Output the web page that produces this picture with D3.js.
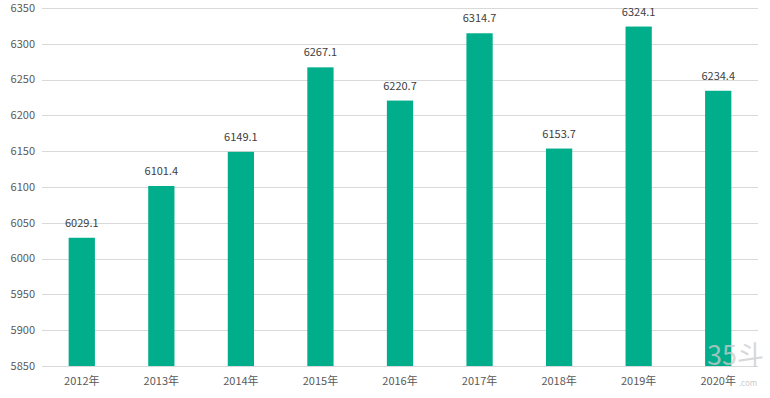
<!DOCTYPE html>
<html lang="zh">
<head>
<meta charset="UTF-8">
<script src="https://d3js.org/d3.v7.min.js"></script>
<style>
  body { margin: 0; background: #fff; }
  text { font-family: "Noto Sans CJK SC", "Noto Sans", sans-serif; }
</style>
</head>
<body>
<div id="chart"></div>
<script>
// data
var years = ["2012年", "2013年", "2014年", "2015年", "2016年", "2017年", "2018年", "2019年", "2020年"];
var values = [6029.1, 6101.4, 6149.1, 6267.1, 6220.7, 6314.7, 6153.7, 6324.1, 6234.4];
var yTicks = [5850, 5900, 5950, 6000, 6050, 6100, 6150, 6200, 6250, 6300, 6350];

var W = 770, H = 398;
var margin = {top: 8, right: 12, bottom: 32, left: 42};
var width = W - margin.left - margin.right,
    height = H - margin.top - margin.bottom;

var svg = d3.select("#chart").append("svg")
    .attr("width", W).attr("height", H);

var g = svg.append("g")
    .attr("transform", "translate(" + margin.left + "," + margin.top + ")");

var x = d3.scaleBand().domain(years).range([0, width]).paddingInner(0.67).paddingOuter(0.335);
var y = d3.scaleLinear().domain([5850, 6350]).range([height, 0]);

// gridlines
g.append("g").selectAll("line")
  .data(yTicks)
  .enter().append("line")
    .attr("x1", 0).attr("x2", width)
    .attr("y1", function(d) { return Math.round(y(d)) + 0.5; })
    .attr("y2", function(d) { return Math.round(y(d)) + 0.5; })
    .attr("stroke", "#d9d9d9").attr("stroke-width", 1);

// y tick labels
g.append("g").selectAll("text")
  .data(yTicks)
  .enter().append("text")
    .attr("x", -7)
    .attr("y", function(d) { return y(d); })
    .attr("dy", "0.35em")
    .attr("text-anchor", "end")
    .attr("font-size", 11)
    .attr("fill", "#595959")
    .text(function(d) { return d; });

// watermark (behind labels)
svg.append("text")
    .attr("x", 707).attr("y", 365)
    .attr("font-size", 27)
    .attr("fill", "#cccccc")
    .attr("opacity", 0.75)
    .text("35斗");
svg.append("text")
    .attr("x", 739).attr("y", 386)
    .attr("font-size", 8)
    .attr("fill", "#cccccc")
    .text(".com");

// bars
g.append("g").selectAll("rect")
  .data(values)
  .enter().append("rect")
    .attr("x", function(d, i) { return x(years[i]); })
    .attr("y", function(d) { return y(d); })
    .attr("width", x.bandwidth())
    .attr("height", function(d) { return height - y(d); })
    .attr("fill", "#00ae8b");

// value labels
g.append("g").selectAll("text")
  .data(values)
  .enter().append("text")
    .attr("x", function(d, i) { return x(years[i]) + x.bandwidth() / 2; })
    .attr("y", function(d) { return y(d) - 11; })
    .attr("text-anchor", "middle")
    .attr("font-size", 11)
    .attr("fill", "#404040")
    .text(function(d) { return d.toFixed(1); });

// x labels
g.append("g").selectAll("text")
  .data(years)
  .enter().append("text")
    .attr("x", function(d) { return x(d) + x.bandwidth() / 2; })
    .attr("y", height + 19)
    .attr("text-anchor", "middle")
    .attr("font-size", 11)
    .attr("fill", "#595959")
    .text(function(d) { return d; });
</script>
</body>
</html>
